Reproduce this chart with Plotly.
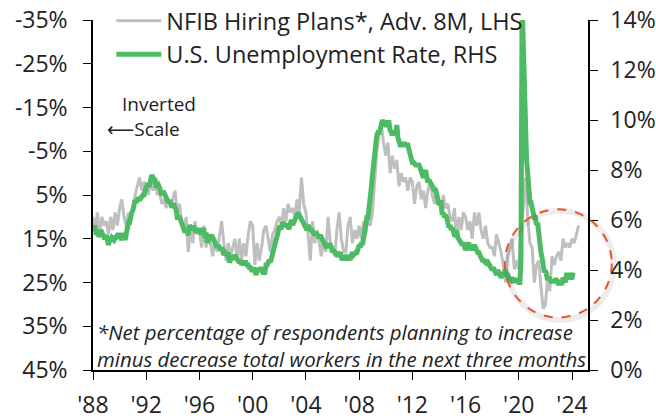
import pandas as pd
import plotly.graph_objects as go

# U.S. unemployment rate, monthly from Jan-1988 (RHS, %)
unemp = [
    5.7, 5.7, 5.7, 5.4, 5.6, 5.4, 5.4, 5.6, 5.4, 5.4, 5.3, 5.3,
    5.4, 5.2, 5.0, 5.2, 5.2, 5.3, 5.2, 5.2, 5.3, 5.3, 5.4, 5.4,
    5.4, 5.3, 5.2, 5.4, 5.4, 5.2, 5.5, 5.7, 5.9, 5.9, 6.2, 6.3,
    6.4, 6.6, 6.8, 6.7, 6.9, 6.9, 6.8, 6.9, 6.9, 7.0, 7.0, 7.3,
    7.3, 7.4, 7.4, 7.4, 7.6, 7.8, 7.7, 7.6, 7.6, 7.3, 7.4, 7.4,
    7.3, 7.1, 7.0, 7.1, 7.1, 7.0, 6.9, 6.8, 6.7, 6.8, 6.6, 6.5,
    6.6, 6.6, 6.5, 6.4, 6.1, 6.1, 6.1, 6.0, 5.9, 5.8, 5.6, 5.5,
    5.6, 5.4, 5.4, 5.8, 5.6, 5.6, 5.7, 5.7, 5.6, 5.5, 5.6, 5.6,
    5.6, 5.5, 5.5, 5.6, 5.6, 5.3, 5.5, 5.1, 5.2, 5.2, 5.4, 5.4,
    5.3, 5.2, 5.2, 5.1, 4.9, 5.0, 4.9, 4.8, 4.9, 4.7, 4.6, 4.7,
    4.6, 4.6, 4.7, 4.3, 4.4, 4.5, 4.5, 4.5, 4.6, 4.5, 4.4, 4.4,
    4.3, 4.4, 4.2, 4.3, 4.2, 4.3, 4.3, 4.2, 4.2, 4.1, 4.1, 4.0,
    4.0, 4.1, 4.0, 3.8, 4.0, 4.0, 4.0, 4.1, 3.9, 3.9, 3.9, 3.9,
    4.2, 4.2, 4.3, 4.4, 4.3, 4.5, 4.6, 4.9, 5.0, 5.3, 5.5, 5.7,
    5.7, 5.7, 5.7, 5.9, 5.8, 5.8, 5.8, 5.7, 5.7, 5.7, 5.9, 6.0,
    5.8, 5.9, 5.9, 6.0, 6.1, 6.3, 6.2, 6.1, 6.1, 6.0, 5.8, 5.7,
    5.7, 5.6, 5.8, 5.6, 5.6, 5.6, 5.5, 5.4, 5.4, 5.5, 5.4, 5.4,
    5.3, 5.4, 5.2, 5.2, 5.1, 5.0, 5.0, 4.9, 5.0, 5.0, 5.0, 4.9,
    4.7, 4.8, 4.7, 4.7, 4.6, 4.6, 4.7, 4.7, 4.5, 4.4, 4.5, 4.4,
    4.6, 4.5, 4.4, 4.5, 4.4, 4.6, 4.7, 4.6, 4.7, 4.7, 4.7, 5.0,
    5.0, 4.9, 5.1, 5.0, 5.4, 5.6, 5.8, 6.1, 6.1, 6.5, 6.8, 7.3,
    7.8, 8.3, 8.7, 9.0, 9.4, 9.5, 9.5, 9.6, 9.8, 10.0, 9.9, 9.9,
    9.8, 9.8, 9.9, 9.9, 9.6, 9.4, 9.4, 9.5, 9.5, 9.4, 9.8, 9.3,
    9.1, 9.0, 9.0, 9.1, 9.0, 9.1, 9.0, 9.0, 9.0, 8.8, 8.6, 8.5,
    8.3, 8.3, 8.2, 8.2, 8.2, 8.2, 8.2, 8.1, 7.8, 7.8, 7.7, 7.9,
    8.0, 7.7, 7.5, 7.6, 7.5, 7.5, 7.3, 7.2, 7.2, 7.2, 6.9, 6.7,
    6.6, 6.7, 6.7, 6.2, 6.3, 6.1, 6.2, 6.1, 5.9, 5.7, 5.8, 5.6,
    5.7, 5.5, 5.4, 5.4, 5.6, 5.3, 5.2, 5.1, 5.0, 5.0, 5.1, 5.0,
    4.8, 4.9, 5.0, 5.1, 4.8, 4.9, 4.8, 4.9, 5.0, 4.9, 4.7, 4.7,
    4.7, 4.6, 4.4, 4.4, 4.4, 4.3, 4.3, 4.4, 4.3, 4.2, 4.2, 4.1,
    4.0, 4.1, 4.0, 4.0, 3.8, 4.0, 3.8, 3.8, 3.7, 3.8, 3.8, 3.9,
    4.0, 3.8, 3.8, 3.7, 3.6, 3.6, 3.7, 3.6, 3.5, 3.6, 3.6, 3.6,
    3.5, 3.5, 4.4, 14.8, 13.2, 11.0, 10.2, 8.4, 7.9, 6.9, 6.7, 6.7,
    6.4, 6.2, 6.1, 6.1, 5.8, 5.9, 5.4, 5.1, 4.7, 4.5, 4.2, 3.9,
    4.0, 3.8, 3.6, 3.7, 3.6, 3.6, 3.5, 3.6, 3.5, 3.6, 3.6, 3.5,
    3.4, 3.6, 3.5, 3.4, 3.7, 3.6, 3.5, 3.8, 3.8, 3.8, 3.7, 3.7,
    3.7, 3.9,
]

# NFIB hiring plans, advanced 8 months, every 2 months from Jan-1988 (LHS, %)
nfib = [
    10, 13, 9, 14, 10, 12,
    11, 14, 10, 13, 9, 12,
    8, 6, 10, 12, 9, 11,
    8, 5, 3, 1, 4, 2,
    3, 5, 1, 4, 2, 5,
    4, 7, 6, 8, 6, 7,
    6, 4, 9, 7, 11, 13,
    10, 18, 12, 16, 11, 14,
    13, 17, 12, 17, 14, 16,
    19, 15, 18, 14, 11, 16,
    20, 16, 19, 17, 15, 20,
    15, 20, 16, 19, 14, 11,
    12, 21, 16, 20, 17, 13,
    12, 15, 18, 14, 13, 11,
    10, 12, 8, 11, 7, 9,
    8, 10, 6, 9, 1, 7,
    9, 14, 20, 11, 16, 13,
    16, 19, 15, 18, 10, 16,
    17, 19, 13, 9, 15, 18,
    18, 12, 10, 16, 13, 15,
    12, 15, 11, 14, 10, 12,
    9, 3, -5, -9, -11, -7,
    -4, -7, 0, -4, -1, -3,
    3, 0, 2, 1, 4, 1,
    2, 7, 3, 2, 6, 4,
    8, 4, 2, 5, 7, 4,
    6, 9, 5, 8, 7, 10,
    11, 8, 15, 10, 13, 9,
    10, 13, 11, 15, 9, 12,
    9, 13, 15, 12, 16, 17,
    17, 19, 14, 16, 18, 21,
    25, 19, 17, 15, 22, 20,
    22, 12, 8, 1, 10, 16,
    17, 25, 21, 20, 26, 31,
    30, 24, 27, 19, 21, 19,
    18, 20, 15, 17, 16, 17,
    15, 16, 14, 12,
]

year_ticks = list(range(1988, 2025, 4))
year_labels = ["'" + str(y)[2:] for y in year_ticks]
lhs_ticks = [-35, -25, -15, -5, 5, 15, 25, 35, 45]
lhs_labels = [f"{v}%" for v in lhs_ticks]
rhs_ticks = [0, 2, 4, 6, 8, 10, 12, 14]
rhs_labels = [f"{v}%" for v in rhs_ticks]

FONT = "Open Sans"
TXT = "#222222"

ue_dates = pd.date_range("1988-01-01", periods=len(unemp), freq="MS")
nfib_dates = pd.date_range("1988-01-01", periods=len(nfib), freq="2MS")

fig = go.Figure()

fig.add_trace(go.Scatter(
    x=nfib_dates, y=nfib, yaxis="y",
    name="NFIB Hiring Plans*, Adv. 8M, LHS",
    mode="lines", line=dict(color="#BFBFBF", width=3),
))
fig.add_trace(go.Scatter(
    x=ue_dates, y=unemp, yaxis="y2",
    name="U.S. Unemployment Rate, RHS",
    mode="lines", line=dict(color="#4DBB63", width=5),
))

axis_common = dict(
    showgrid=False, zeroline=False,
    showline=True, linecolor="black", linewidth=1.5,
    ticks="outside", ticklen=8, tickcolor="black",
    tickfont=dict(size=23),
)

fig.update_layout(
    width=656, height=420,
    margin=dict(l=93, r=68, t=20, b=50, autoexpand=False),
    paper_bgcolor="white", plot_bgcolor="white",
    font=dict(family=FONT, size=21, color=TXT),
    showlegend=True,
    legend=dict(
        x=0.037, y=1.06, xanchor="left", yanchor="top",
        bgcolor="rgba(0,0,0,0)", font=dict(size=23.5),
        tracegroupgap=0, itemwidth=45,
    ),
    xaxis=dict(
        range=["1988-01-01", "2025-03-15"],
        tickvals=[f"{y}-01-01" for y in year_ticks], ticktext=year_labels,
        ticklabelstandoff=6, **axis_common,
    ),
    yaxis=dict(
        range=[45, -35],
        tickvals=lhs_ticks, ticktext=lhs_labels,
        ticklabelstandoff=11, **axis_common,
    ),
    yaxis2=dict(
        range=[0, 14], overlaying="y", side="right",
        tickvals=rhs_ticks, ticktext=rhs_labels,
        ticklabelstandoff=8, **axis_common,
    ),
)

# inverted-scale note
fig.add_annotation(x=0.055, y=0.76, xref="paper", yref="paper",
                   xanchor="left", yanchor="middle",
                   text="Inverted", showarrow=False, font=dict(size=19))
fig.add_annotation(x=0.024, y=0.69, xref="paper", yref="paper",
                   xanchor="left", yanchor="middle",
                   text="<span style='font-family:DejaVu Sans'>\u27f5</span>Scale",
                   showarrow=False, font=dict(size=19))

# footnote
fig.add_annotation(x=0.004, y=-0.013, xref="paper", yref="paper",
                   xanchor="left", yanchor="bottom", align="left",
                   text="<i>*Net percentage of respondents planning to increase<br>"
                        "minus decrease total workers in the next three months</i>",
                   showarrow=False, font=dict(size=20.4))

# highlight circle (shadow + dashed ring)
fig.add_shape(type="circle", xref="paper", yref="paper",
              x0=0.836, x1=1.052, y0=0.143, y1=0.455,
              line=dict(color="rgba(0,0,0,0.07)", width=6))
fig.add_shape(type="circle", xref="paper", yref="paper",
              x0=0.832, x1=1.048, y0=0.150, y1=0.459,
              line=dict(color="#E8542A", width=2, dash="dash"))

# drop the default page margin so the figure sits at the window's corner
fig.write_html("out.html", config={"displayModeBar": False},
               post_script="document.body.style.margin='0';")
